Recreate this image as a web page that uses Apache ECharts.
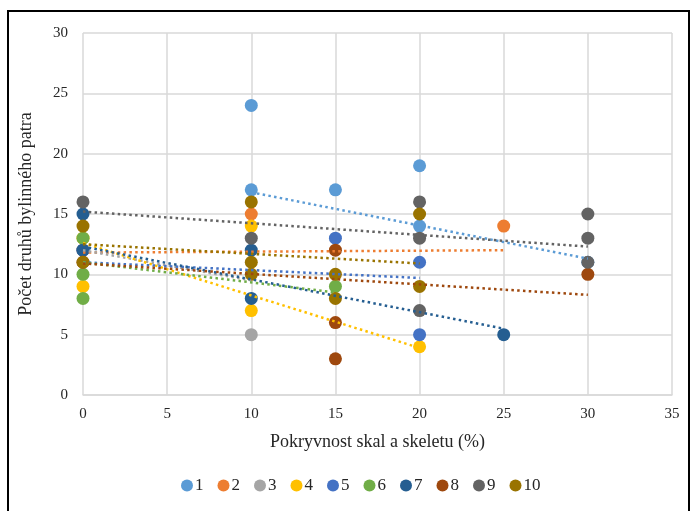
<!DOCTYPE html>
<html>
<head>
<meta charset="utf-8">
<script src="https://cdn.jsdelivr.net/npm/echarts@6/dist/echarts.min.js"></script>
<style>
  html, body { margin: 0; padding: 0; background: #fff; }
  #chart { width: 692px; height: 511px; }
</style>
</head>
<body>
<div id="chart"></div>
<script>
// body jednotlivych serii [pokryvnost, pocet druhu]
const names = ["1", "2", "3", "4", "5", "6", "7", "8", "9", "10"];
const colors = ["#5B9BD5", "#ED7D31", "#A5A5A5", "#FFC000", "#4472C4",
                "#70AD47", "#255E91", "#9E480E", "#636363", "#997300"];

const s1 = [[10, 24], [10, 17], [15, 17], [20, 19], [20, 14], [30, 11]];
const s2 = [[0, 12], [10, 15], [25, 14]];
const s3 = [[0, 12], [10, 5]];
const s4 = [[0, 13], [0, 9], [10, 14], [10, 7], [20, 4]];
const s5 = [[0, 12], [15, 13], [20, 11], [20, 5]];
const s6 = [[0, 13], [0, 10], [0, 8], [15, 9]];
const s7 = [[0, 15], [0, 12], [10, 12], [10, 8], [25, 5]];
const s8 = [[0, 11], [15, 12], [15, 6], [15, 3], [30, 10]];
const s9 = [[0, 16], [10, 13], [20, 16], [20, 13], [20, 7], [30, 15], [30, 13], [30, 11]];
const s10 = [[0, 14], [0, 11], [10, 16], [10, 11], [10, 10], [15, 10], [15, 8], [20, 15], [20, 9]];
const points = [s1, s2, s3, s4, s5, s6, s7, s8, s9, s10];

// spojnice trendu: [x0, y0, x1, y1]
const trends = [
  [10, 16.8, 30, 11.3],
  [0, 11.8, 25, 12.0],
  [0, 12.0, 10, 9.5],
  [0, 12.6, 20, 3.9],
  [0, 11.0, 20, 9.7],
  [0, 11.0, 15, 8.5],
  [0, 12.3, 25, 5.5],
  [0, 10.9, 30, 8.3],
  [0, 15.2, 30, 12.3],
  [0, 12.5, 20, 10.9]
];

const font = "Liberation Serif";
const chart = echarts.init(document.getElementById("chart"));

const series = [];
names.forEach((n, i) => {
  series.push({
    name: n,
    type: "scatter",
    data: points[i],
    symbolSize: 13,
    itemStyle: { color: colors[i], opacity: 1 },
    z: 2
  });
});
trends.forEach((t, i) => {
  series.push({
    name: "trend" + names[i],
    type: "line",
    data: [[t[0], t[1]], [t[2], t[3]]],
    symbol: "none",
    silent: true,
    lineStyle: { color: colors[i], width: 2.5, type: [2.5, 3.3], cap: "butt" },
    z: 3
  });
});

const option = {
  animation: false,
  textStyle: { fontFamily: font },
  grid: { left: 83, right: 20, top: 33, bottom: 116 },
  xAxis: {
    type: "value",
    min: 0, max: 35, interval: 5,
    name: "Pokryvnost skal a skeletu (%)",
    nameLocation: "middle",
    nameGap: 38,
    nameTextStyle: { fontFamily: font, fontSize: 18, color: "#262626" },
    axisLine: { show: true, lineStyle: { color: "#d9d9d9", width: 1.5 } },
    axisTick: { show: false },
    axisLabel: { fontFamily: font, fontSize: 15, color: "#262626", margin: 12 },
    splitLine: { show: true, lineStyle: { color: "#d9d9d9", width: 1.5 } }
  },
  yAxis: {
    type: "value",
    min: 0, max: 30, interval: 5,
    name: "Počet druhů bylinného patra",
    nameLocation: "middle",
    nameGap: 48,
    nameTextStyle: { fontFamily: font, fontSize: 18, color: "#262626" },
    axisLine: { show: false },
    axisTick: { show: false },
    axisLabel: { fontFamily: font, fontSize: 15, color: "#262626", margin: 15 },
    splitLine: { show: true, lineStyle: { color: "#d9d9d9", width: 1.5 } }
  },
  legend: {
    data: names,
    bottom: 12,
    left: 176,
    icon: "circle",
    itemWidth: 12,
    itemHeight: 12,
    itemGap: 14,
    textStyle: { fontFamily: font, fontSize: 17, color: "#262626", padding: [0, 0, 0, -3] }
  },
  graphic: [{
    type: "rect",
    shape: { x: 8, y: 11, width: 681, height: 510 },
    style: { fill: "none", stroke: "#000", lineWidth: 2 },
    silent: true
  }],
  series: series
};

chart.setOption(option);
</script>
</body>
</html>
